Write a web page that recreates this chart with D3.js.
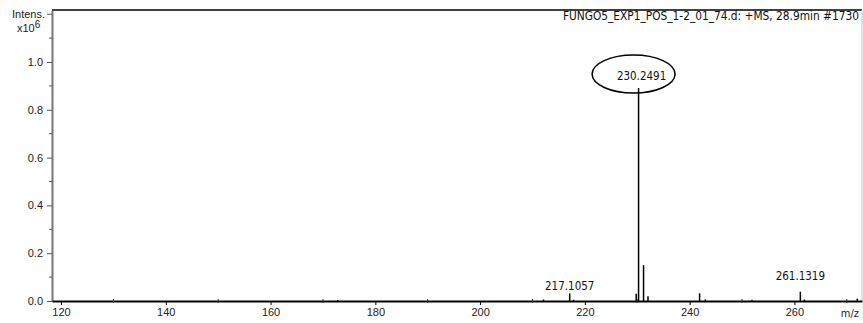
<!DOCTYPE html>
<html>
<head>
<meta charset="utf-8">
<script src="https://cdn.jsdelivr.net/npm/d3@7"></script>
<style>
  html, body { margin: 0; padding: 0; background: #fff; }
  svg { display: block; }
</style>
</head>
<body>
<svg id="chart" width="863" height="323"></svg>
<script>
// Mass spectrum: m/z positions and relative intensities (x10^6)
const peakMz        = [172.8, 212.1, 217.1057, 217.85, 229.8, 230.2491, 231.2, 232.05, 241.9, 243.0, 251.9, 261.1319, 261.9, 272.0];
const peakIntensity = [0.004, 0.006, 0.032,    0.005,  0.03,  0.891,    0.15,  0.02,   0.032, 0.007, 0.005, 0.039,    0.006, 0.01];

// Annotated peaks
const labelMz    = [217.1057, 230.2491, 261.1319];
const labelText  = ["217.1057", "230.2491", "261.1319"];

const xTicks      = [120, 140, 160, 180, 200, 220, 240, 260];
const xMinorTicks = [130, 150, 170, 190, 210, 230, 250, 270];
const yTicks      = [0.0, 0.2, 0.4, 0.6, 0.8, 1.0];
const yMinorTicks = [0.1, 0.3, 0.5, 0.7, 0.9, 1.1, 1.2];

const titleText = "FUNGO5_EXP1_POS_1-2_01_74.d: +MS, 28.9min #1730";

const svg = d3.select("#chart");
const plotLeft = 52, plotRight = 862, plotTop = 10, plotBottom = 301;

const x = d3.scaleLinear().domain([118.28, 272.9]).range([plotLeft, plotRight]);
const y = d3.scaleLinear().domain([0, 1.2176]).range([plotBottom, plotTop]);

const labelFont = "'DejaVu Sans Condensed', 'DejaVu Sans', sans-serif";
const axisFont = "'Liberation Sans', Arial, sans-serif";

// Frame: top and right borders
svg.append("line").attr("x1", plotLeft).attr("x2", plotRight).attr("y1", plotTop).attr("y2", plotTop)
  .attr("stroke", "#000").attr("stroke-width", 1.5);
svg.append("line").attr("x1", plotRight).attr("x2", plotRight).attr("y1", plotTop).attr("y2", plotBottom)
  .attr("stroke", "#c8c8c8").attr("stroke-width", 1);

// Spectrum as vertical sticks
svg.append("g").selectAll("line").data(peakMz).join("line")
  .attr("x1", d => x(d)).attr("x2", d => x(d))
  .attr("y1", y(0)).attr("y2", (d, i) => y(peakIntensity[i]))
  .attr("stroke", "#000").attr("stroke-width", 1.5);

// Y axis
const yAxis = svg.append("g").attr("transform", `translate(${plotLeft},0)`)
  .call(d3.axisLeft(y).tickValues(yTicks).tickFormat(d3.format(".1f")).tickSize(5).tickSizeOuter(0).tickPadding(4));
yAxis.select(".domain").attr("stroke", "#777").attr("stroke-width", 2);
yAxis.selectAll(".tick line").attr("stroke", "#555");
yAxis.selectAll("text").attr("font-family", axisFont).attr("font-size", 11).attr("fill", "#222");
svg.append("g").selectAll("line").data(yMinorTicks).join("line")
  .attr("x1", d => d === 1.2 ? plotLeft - 5 : plotLeft - 3).attr("x2", plotLeft)
  .attr("y1", d => y(d)).attr("y2", d => y(d))
  .attr("stroke", "#555").attr("stroke-width", 1);

// Y axis title: "Intens." and x10^6
svg.append("text").attr("x", 45).attr("y", y(1.2) + 3.5).attr("text-anchor", "end")
  .attr("font-family", axisFont).attr("font-size", 11).attr("fill", "#222").text("Intens.");
const mult = svg.append("text").attr("x", 17).attr("y", 32)
  .attr("font-family", axisFont).attr("font-size", 11).attr("fill", "#222");
mult.append("tspan").text("x10");
mult.append("tspan").attr("dy", -4).attr("font-size", 10).text("6");

// X axis
const xAxis = svg.append("g").attr("transform", `translate(0,${plotBottom})`)
  .call(d3.axisBottom(x).tickValues(xTicks).tickFormat(d3.format("d")).tickSize(4).tickSizeOuter(0).tickPadding(3));
xAxis.select(".domain").attr("stroke", "#000").attr("stroke-width", 2.2);
xAxis.selectAll("text").attr("font-family", axisFont).attr("font-size", 11).attr("fill", "#222");
svg.append("g").selectAll("line").data(xMinorTicks).join("line")
  .attr("x1", d => x(d)).attr("x2", d => x(d))
  .attr("y1", plotBottom - 2).attr("y2", plotBottom + 2)
  .attr("stroke", "#333").attr("stroke-width", 1);
svg.append("text").attr("x", 859).attr("y", 316.5).attr("text-anchor", "end")
  .attr("font-family", labelFont).attr("font-size", 11).attr("fill", "#222").text("m/z");

// Spectrum title
svg.append("text").attr("x", 859).attr("y", 20).attr("text-anchor", "end")
  .attr("font-family", labelFont).attr("font-size", 11.8).attr("fill", "#111").text(titleText);

// Peak labels, lifted above their peaks
const labelLift = { "217.1057": 3, "230.2491": 8, "261.1319": 12 };
const labelShift = { "217.1057": 0, "230.2491": 3, "261.1319": 0 };
svg.append("g").selectAll("text").data(labelMz).join("text")
  .attr("x", (d, i) => x(d) + labelShift[labelText[i]])
  .attr("y", (d, i) => y(peakIntensity[peakMz.indexOf(d)]) - labelLift[labelText[i]])
  .attr("text-anchor", "middle")
  .attr("font-family", labelFont).attr("font-size", 11.5).attr("fill", "#111")
  .text((d, i) => labelText[i]);

// Ellipse highlighting the base peak label
const baseMz = 230.2491;
svg.append("ellipse")
  .attr("cx", x(baseMz) - 5).attr("cy", y(peakIntensity[peakMz.indexOf(baseMz)]) - 14)
  .attr("rx", 41.5).attr("ry", 19)
  .attr("fill", "none").attr("stroke", "#000").attr("stroke-width", 1.5);
</script>
</body>
</html>
